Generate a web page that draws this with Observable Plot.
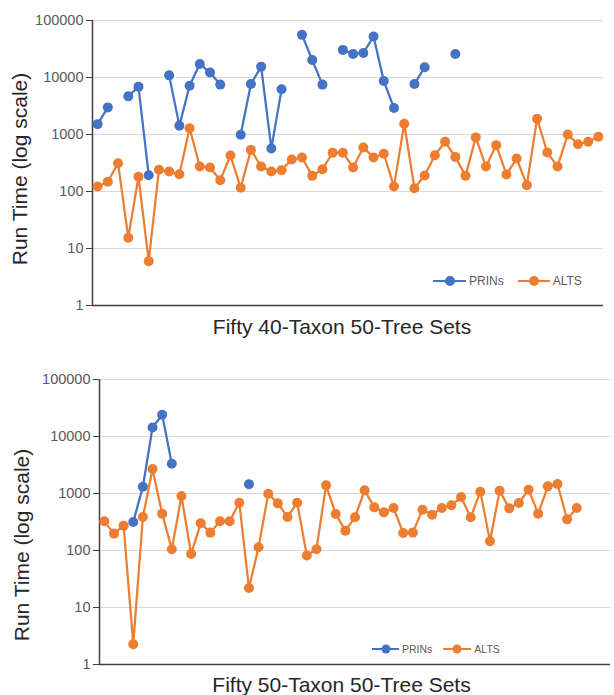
<!DOCTYPE html>
<html>
<head>
<meta charset="utf-8">
<script src="https://cdn.jsdelivr.net/npm/d3@7"></script>
<script src="https://cdn.jsdelivr.net/npm/@observablehq/plot@0.6"></script>
<style>
  body { margin: 0; background: #fff; font-family: "Liberation Sans", Arial, sans-serif; }
  #wrap { position: relative; width: 614px; height: 695px; overflow: hidden; background: #fff; }
  #wrap svg { display: block; }
  .legend { position: absolute; display: flex; align-items: center; color: #595959; white-space: nowrap; }
  .key { position: relative; display: inline-block; height: 2px; }
  .key .dot { position: absolute; left: 50%; top: 50%; border-radius: 50%; transform: translate(-50%, -50%); }
  .ylab { position: absolute; font-size: 21px; line-height: 1; color: #262626; white-space: nowrap;
          transform-origin: center center; transform: translate(-50%, -50%) rotate(-90deg); }
</style>
</head>
<body>
<div id="wrap"></div>
<script>
// ---------- data ----------
const seriesNames = ["PRINs", "ALTS"];
const seriesColors = ["#4472C4", "#ED7D31"];
const yTicks = [1, 10, 100, 1000, 10000, 100000];
const yTitle = "Run Time (log scale)";

// Chart 1: Fifty 40-Taxon 50-Tree Sets (50 category slots)
const title40 = "Fifty 40-Taxon 50-Tree Sets";
const slots40 = 50;
const prins40 = [1520, 2990, null, 4670, 6910, 193, null, 10900, 1430, 7190,
                 17300, 12200, 7500, null, 988, 7690, 15500, 569, 6200, null,
                 56000, 20300, 7500, null, 30500, 25900, 27000, 52400, 8690, 2910,
                 null, 7690, 15100, null, null, 25900, null, null, null, null,
                 null, null, null, null, null, null, null, null, null, null];
const alts40 = [122, 148, 314, 15.5, 181, 6.0, 240, 224, 201, 1290,
                274, 264, 158, 428, 116, 537, 274, 224, 237, 364,
                396, 188, 246, 478, 478, 264, 592, 395, 459, 122,
                1545, 114, 191, 434, 745, 405, 188, 890, 274, 651,
                199, 379, 129, 1890, 484, 274, 1000, 676, 745, 912];

// Chart 2: Fifty 50-Taxon 50-Tree Sets (53 category slots, 50 filled)
const title50 = "Fifty 50-Taxon 50-Tree Sets";
const slots50 = 53;
const prins50 = [null, null, null, 316, 1315, 14400, 24000, 3330, null, null,
                 null, null, null, null, null, 1450, null, null, null, null,
                 null, null, null, null, null, null, null, null, null, null,
                 null, null, null, null, null, null, null, null, null, null,
                 null, null, null, null, null, null, null, null, null, null];
const alts50 = [325, 198, 273, 2.27, 387, 2685, 443, 105, 903, 87,
                300, 206, 325, 325, 690, 22, 114, 993, 672, 387,
                690, 82, 105, 1390, 437, 223, 382, 1135, 571, 467,
                556, 203, 206, 520, 425, 556, 620, 867, 382, 1076,
                145, 1120, 549, 681, 1166, 443, 1334, 1465, 352, 556];

// ---------- chart builder ----------
const FONT = "'Liberation Sans', Arial, sans-serif";

function rowsFor(values, name) {
  return values.map((v, i) => ({set: i + 1, series: name, v: (v == null ? NaN : v)}));
}

function chart(cfg) {
  const p = rowsFor(cfg.prins, "PRINs");
  const a = rowsFor(cfg.alts, "ALTS");
  const ok = d => Number.isFinite(d.v);
  return Plot.plot({
    width: 614,
    height: cfg.height,
    marginTop: cfg.marginTop,
    marginBottom: cfg.marginBottom,
    marginLeft: cfg.marginLeft,
    marginRight: cfg.marginRight,
    style: {fontFamily: FONT, background: "#fff", overflow: "visible"},
    x: {type: "linear", domain: [0.5, cfg.slots + 0.5], axis: null},
    y: {type: "log", domain: [1, 100000], axis: null},
    color: {domain: seriesNames, range: seriesColors},
    marks: [
      Plot.gridY(yTicks, {stroke: "#d9d9d9", strokeOpacity: 1, strokeWidth: 1}),
      Plot.axisY(yTicks, {
        tickFormat: d3.format("d"), tickSize: 6, tickPadding: 3,
        fontSize: 14.5, stroke: "#404040", fill: "#595959", label: null
      }),
      Plot.ruleX([0.5], {stroke: "#404040", strokeWidth: 1.5}),
      Plot.ruleY([1], {stroke: "#404040", strokeWidth: 1.5}),
      Plot.line(p, {x: "set", y: "v", stroke: "series", strokeWidth: 2.25}),
      Plot.dot(p.filter(ok), {x: "set", y: "v", fill: "series", r: 5}),
      Plot.line(a, {x: "set", y: "v", stroke: "series", strokeWidth: 2.25}),
      Plot.dot(a.filter(ok), {x: "set", y: "v", fill: "series", r: 5}),
      Plot.text([cfg.title], {
        frameAnchor: "bottom", dx: cfg.titleDx, dy: cfg.titleDy,
        fontSize: 21, fill: "#262626"
      })
    ]
  });
}

function legend(cfg) {
  const el = document.createElement("div");
  el.className = "legend";
  el.style.left = cfg.left + "px";
  el.style.top = (cfg.cy - cfg.fontSize * 0.6) + "px";
  el.style.height = (cfg.fontSize * 1.2) + "px";
  el.style.fontSize = cfg.fontSize + "px";
  seriesNames.forEach((name, i) => {
    const key = document.createElement("span");
    key.className = "key";
    key.style.width = cfg.lineW[i] + "px";
    key.style.background = seriesColors[i];
    key.style.marginLeft = (i === 0 ? 0 : cfg.gap) + "px";
    key.style.marginRight = "3px";
    const dot = document.createElement("span");
    dot.className = "dot";
    dot.style.width = cfg.dot + "px";
    dot.style.height = cfg.dot + "px";
    dot.style.background = seriesColors[i];
    key.appendChild(dot);
    const lab = document.createElement("span");
    lab.textContent = name;
    el.appendChild(key);
    el.appendChild(lab);
  });
  return el;
}

function yLabel(cx, cy) {
  const el = document.createElement("div");
  el.className = "ylab";
  el.style.left = cx + "px";
  el.style.top = cy + "px";
  el.textContent = yTitle;
  return el;
}

const wrap = document.getElementById("wrap");
wrap.appendChild(chart({
  prins: prins40, alts: alts40, slots: slots40, title: title40,
  height: 345, marginTop: 20, marginBottom: 40, marginLeft: 92, marginRight: 11,
  titleDx: -6, titleDy: 28
}));
wrap.appendChild(chart({
  prins: prins50, alts: alts50, slots: slots50, title: title50,
  height: 350, marginTop: 34, marginBottom: 31, marginLeft: 99, marginRight: 4,
  titleDx: -13.5, titleDy: 27
}));
wrap.appendChild(yLabel(18.5, 169));
wrap.appendChild(yLabel(21, 545));
wrap.appendChild(legend({left: 433, cy: 281, fontSize: 12, lineW: [33, 32], dot: 10, gap: 14}));
wrap.appendChild(legend({left: 372, cy: 649, fontSize: 10.5, lineW: [27, 28], dot: 9, gap: 11}));
</script>
</body>
</html>
